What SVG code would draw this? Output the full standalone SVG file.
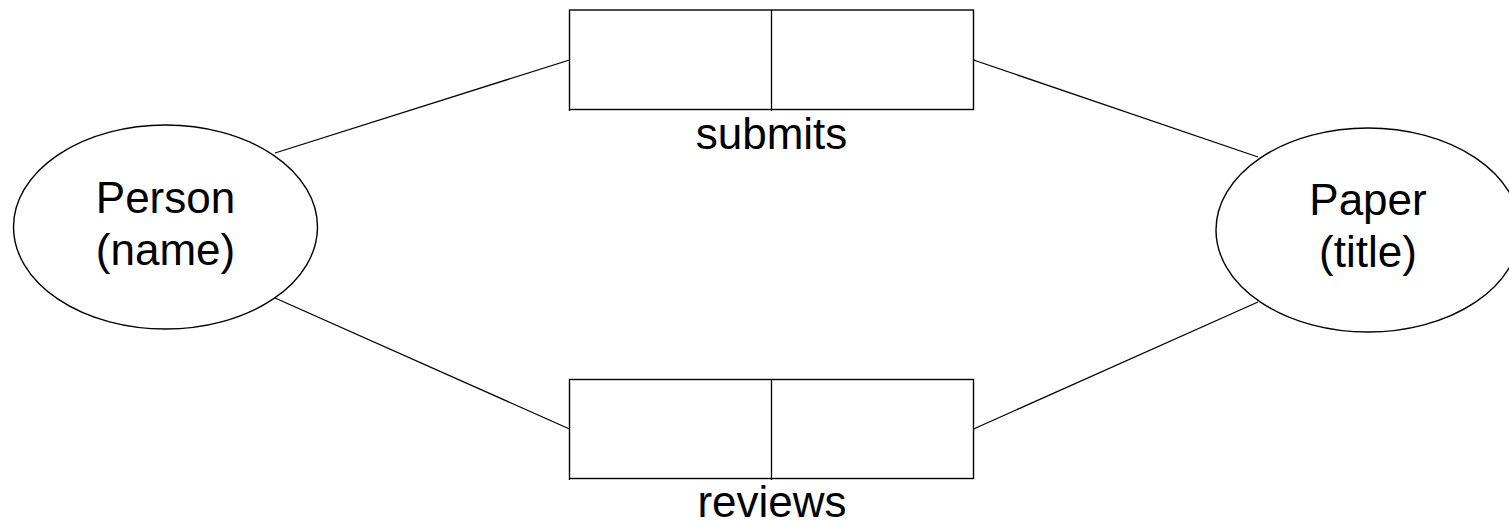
<svg xmlns="http://www.w3.org/2000/svg" width="1509" height="524" viewBox="0 0 1509 524">
  <style>
    .shape { fill: #ffffff; stroke: #000000; stroke-width: 1.4; }
    .edge { stroke: #000000; stroke-width: 1.3; fill: none; }
    .label { font-family: "Liberation Sans", Arial, sans-serif; font-size: 44px; fill: #000000; text-anchor: middle; }
  </style>
  <rect width="1509" height="524" fill="#ffffff"/>

  <!-- relationship links -->
  <g id="connectors">
    <line class="edge" x1="275" y1="153" x2="569.5" y2="60"/>
    <line class="edge" x1="275" y1="298" x2="569.5" y2="429"/>
    <line class="edge" x1="973.5" y1="60" x2="1258" y2="157"/>
    <line class="edge" x1="973.5" y1="429" x2="1258" y2="302"/>
  </g>

  <!-- entity: Person -->
  <g id="person">
    <ellipse class="shape" cx="165.5" cy="227" rx="152" ry="102"/>
    <text class="label" x="165.5" y="213">Person</text>
    <text class="label" x="165.5" y="265">(name)</text>
  </g>

  <!-- entity: Paper (runs past the right edge) -->
  <g id="paper">
    <ellipse class="shape" cx="1368" cy="230" rx="152" ry="102"/>
    <text class="label" x="1368" y="215">Paper</text>
    <text class="label" x="1368" y="267">(title)</text>
  </g>

  <!-- relationship: submits -->
  <g id="submits">
    <rect class="shape" x="569.5" y="10" width="404" height="99.5"/>
    <line class="edge" x1="771.5" y1="10" x2="771.5" y2="111"/>
    <line class="edge" x1="569.5" y1="109.5" x2="569.5" y2="111"/>
    <text class="label" x="771.5" y="149">submits</text>
  </g>

  <!-- relationship: reviews -->
  <g id="reviews">
    <rect class="shape" x="569.5" y="379.5" width="404" height="99"/>
    <line class="edge" x1="771.5" y1="379.5" x2="771.5" y2="480"/>
    <line class="edge" x1="569.5" y1="478.5" x2="569.5" y2="480"/>
    <text class="label" x="772" y="517">reviews</text>
  </g>
</svg>
